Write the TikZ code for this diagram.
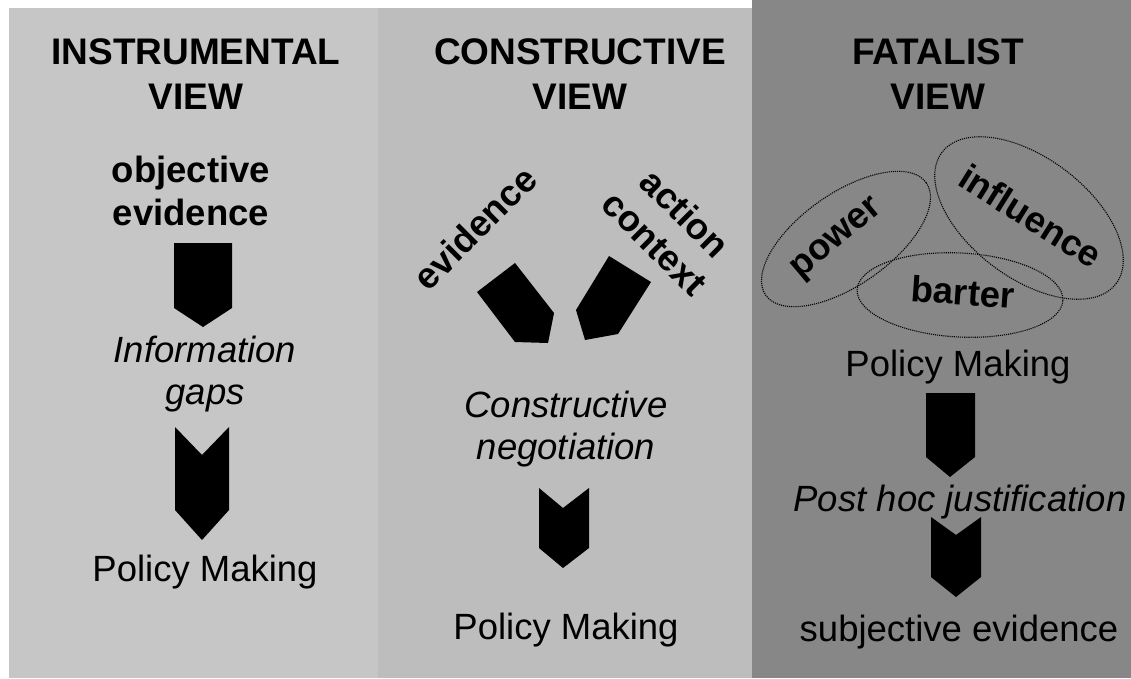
\documentclass[tikz,border=0pt]{standalone}
\usepackage{fontspec}
\setmainfont{Liberation Sans}
\usetikzlibrary{shapes.geometric}
\definecolor{leftbg}{RGB}{198,198,198}
\definecolor{midbg}{RGB}{189,189,189}
\definecolor{rightbg}{RGB}{135,135,135}
\tikzset{
  title/.style={font=\fontsize{37}{45}\selectfont\bfseries, align=center, inner sep=0pt},
  bodytxt/.style={font=\fontsize{36.5}{42.5}\selectfont, align=center, inner sep=0pt},
  ittxt/.style={font=\fontsize{36.5}{42.5}\selectfont\itshape, align=center, inner sep=0pt},
  bftxt/.style={font=\fontsize{36.5}{42.5}\selectfont\bfseries, align=center, inner sep=0pt},
  blockarrow/.style={fill=black},
  bubble/.style={draw=black, densely dotted, line width=1.1pt, ellipse, inner sep=0pt},
}
\begin{document}
\begin{tikzpicture}[x=1pt,y=-1pt]
\useasboundingbox (0,0) rectangle (1131,678);
\fill[white] (0,0) rectangle (1131,678);
% panels
\fill[leftbg] (9,8) rectangle (378,678);
\fill[midbg] (378,8) rectangle (752,678);
\fill[rightbg] (752,0) rectangle (1131,678);

% ---------- instrumental ----------
\node[title] (t1) at (196,74.5) {INSTRUMENTAL\\VIEW};
\node[bftxt] (oe) at (191,191) {objective\\evidence};
\fill[blockarrow] (174,243) -- (232,243) -- (232,308) -- (203,327) -- (174,308) -- cycle;
\node[ittxt] (ig) at (205,374) {Information\\gaps};
\fill[blockarrow] (175,427) -- (202,455) -- (229,427) -- (229,510) -- (202,540) -- (175,510) -- cycle;
\node[bodytxt] (pm1) at (205,572) {Policy Making};

% ---------- constructive ----------
\node[title] (t2) at (580,74.5) {CONSTRUCTIVE\\VIEW};
\node[bftxt, rotate=45] (ev) at (475,228) {evidence};
\node[bftxt, rotate=-45] (ac) at (670,228) {action\\context};
\fill[blockarrow] (477,292) -- (515,263) -- (554,313) -- (548,343) -- (515,342) -- cycle;
\fill[blockarrow] (609,256) -- (651,282) -- (618,334) -- (585,340) -- (576,310) -- cycle;
\node[ittxt] (cn) at (566,429) {Constructive\\negotiation};
\fill[blockarrow] (539,488) -- (563,508) -- (589,488) -- (589,548) -- (563,568) -- (539,548) -- cycle;
\node[bodytxt] (pm2) at (566,630) {Policy Making};

% ---------- fatalist ----------
\node[title] (t3) at (938,74.5) {FATALIST\\VIEW};
\node[bubble, minimum width=196pt, minimum height=92pt, rotate=35] (powE) at (846,239) {};
\node[bubble, minimum width=218pt, minimum height=120pt, rotate=-37] (infE) at (1029,218) {};
\node[bubble, minimum width=206pt, minimum height=84pt, rotate=-3] (barE) at (960,295) {};
\node[bftxt, rotate=40] (pow) at (838,240) {power};
\node[bftxt, rotate=-32] (inf) at (1031,216) {influence};
\node[bftxt, rotate=-4] (bar) at (963,292) {barter};
\node[bodytxt] (pm3) at (958,367) {Policy Making};
\fill[blockarrow] (926,393) -- (975,393) -- (975,457) -- (950,477) -- (926,457) -- cycle;
\node[ittxt] (ph) at (960,502) {Post hoc justification};
\fill[blockarrow] (931,517) -- (956,535) -- (981,517) -- (981,577) -- (956,597) -- (931,577) -- cycle;
\node[bodytxt] (se) at (959,632) {subjective evidence};
\end{tikzpicture}
\end{document}
